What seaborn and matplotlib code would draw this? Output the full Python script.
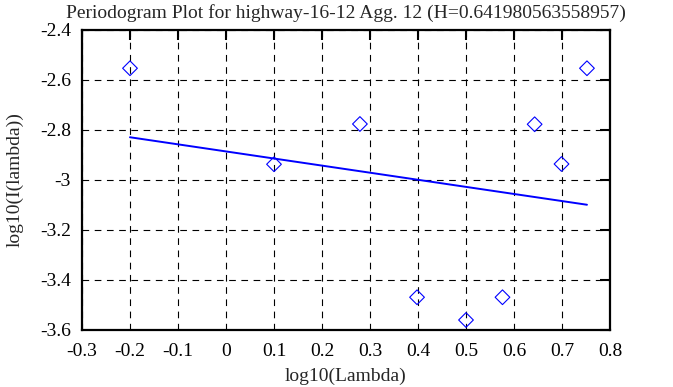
import numpy as np
import pandas as pd
import matplotlib
matplotlib.use('Agg')
import matplotlib.pyplot as plt
import seaborn as sns

## data
log_lambda = [-0.2, 0.1, 0.279, 0.398, 0.5, 0.576, 0.643, 0.699, 0.752]
log_I = [-2.553, -2.937, -2.776, -3.469, -3.560, -3.469, -2.777, -2.936, -2.553]

## least squares fit endpoints (slope = 1 - 2H)
fit_x = [-0.2, 0.752]
fit_y = [-2.829, -3.099]

title = 'Periodogram Plot for highway-16-12 Agg. 12 (H=0.641980563558957)'
xticks = [-0.3, -0.2, -0.1, 0, 0.1, 0.2, 0.3, 0.4, 0.5, 0.6, 0.7, 0.8]
yticks = [-3.6, -3.4, -3.2, -3, -2.8, -2.6, -2.4]

sns.set_style('white')
plt.rcParams['font.family'] = ['Liberation Serif', 'DejaVu Serif']
plt.rcParams['font.size'] = 14

pts = pd.DataFrame({'x': log_lambda, 'y': log_I})
fit = pd.DataFrame({'x': fit_x, 'y': fit_y})

fig = plt.figure(figsize=(6.73, 3.87), dpi=100)
ax = fig.add_axes([82 / 673, 57 / 387, 528 / 673, 300 / 387])

sns.lineplot(data=fit, x='x', y='y', color='#0000ff', linewidth=1.4, ax=ax)
sns.scatterplot(data=pts, x='x', y='y', marker='D', s=56, facecolor='none',
                edgecolor='#0000ff', linewidth=0.8, ax=ax, zorder=3)

ax.set_xlim(-0.3, 0.8)
ax.set_ylim(-3.6, -2.4)
ax.set_xticks(xticks)
ax.set_yticks(yticks)
ax.set_xticklabels([f'{v:g}' for v in xticks])
ax.set_yticklabels([f'{v:g}' for v in yticks])

ax.grid(True, color='black', linestyle=(0, (6, 5)), linewidth=0.8)
ax.tick_params(direction='in', length=7, width=1.5, top=True, right=True,
               labelsize=14, colors='black')
ax.tick_params(axis='x', pad=9)
ax.tick_params(axis='y', pad=8)
for sp in ax.spines.values():
    sp.set_linewidth(1.6)
    sp.set_color('black')

ax.set_xlabel('log10(Lambda)', fontsize=14, labelpad=6)
ax.set_ylabel('log10(I(lambda))', fontsize=14, labelpad=12)
ax.set_title(title, fontsize=14, pad=9)

fig.savefig('out.png', dpi=100)
